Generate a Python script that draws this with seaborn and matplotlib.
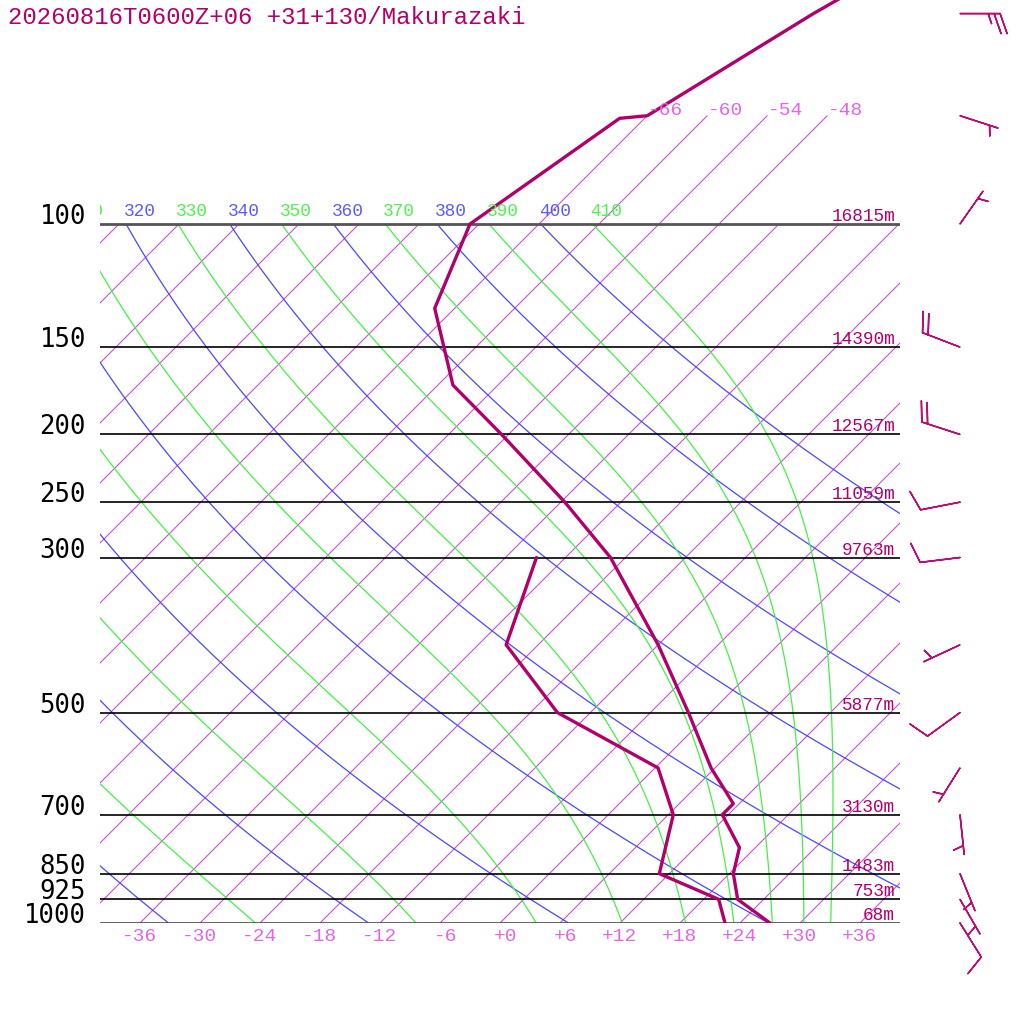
import numpy as np
import matplotlib
matplotlib.use("Agg")
import matplotlib.pyplot as plt
import matplotlib.transforms as mtransforms
from matplotlib.patches import Rectangle
import seaborn as sns

# ======================
# data
# ======================
title = "20260816T0600Z+06 +31+130/Makurazaki"

temp_p = [1000, 925, 850, 780, 700, 675, 600, 500, 400, 300, 250, 200, 170, 132, 100, 70.6, 70, 50, 30]
temp_c = [27.0, 21.4, 18.4, 16.4, 11.4, 11.4, 5.6, -2.2, -12.0, -25.5, -35.6, -48.7, -58.5, -68.0,
          -72.9, -68.5, -66.0, -59.6, -48.0]

dewp_p = [1000, 925, 850, 700, 600, 500, 400, 300]
dewp_c = [22.5, 19.5, 11.0, 6.5, 0.3, -15.3, -27.2, -32.9]

levels = [100, 150, 200, 250, 300, 500, 700, 850, 925, 1000]
heights = ["16815m", "14390m", "12567m", "11059m", "9763m", "5877m", "3130m", "1483m", "753m", "68m"]

wind_p = [50, 70, 100, 150, 200, 250, 300, 400, 500, 600, 700, 850, 925, 1000]
wind_dir = [90, 108, 35, 291, 288, 259, 263, 245, 234, 212, 174, 158, 150, 148]
wind_kt = [25, 5, 5, 20, 20, 10, 10, 5, 10, 5, 5, 5, 5, 10]

iso_temps = [-108, -102, -96, -90, -84, -78, -72, -66, -60, -54, -48, -42, -36, -30, -24, -18,
             -12, -6, 0, 6, 12, 18, 24, 30, 36]
iso_lab = [-36, -30, -24, -18, -12, -6, 0, 6, 12, 18, 24, 30, 36]
iso_top = [-66, -60, -54, -48]
dry_theta = [240, 260, 280, 300, 320, 340, 360, 380, 400]
moist_theta = [250, 270, 290, 310, 330, 350, 370, 390, 410]

# ======================
# styling
# ======================
C_SND = "#b0006a"
C_BARB = "#b80f72"
C_ISO = "#cc44dd"
C_ISO_TXT = "#e066e6"
C_DRY = "#4848ff"
C_MOIST = "#44f044"
MONO = "Liberation Mono"

SKEW = 69.9          # deg C shift per decade of pressure
P_TOP = 1000 * 10 ** (-923 / 699)


def skew(t, p):
    return np.asarray(t, float) + SKEW * np.log10(1000.0 / np.asarray(p, float))


sns.set_theme(style="white")
plt.rcParams["font.family"] = ["DejaVu Sans"]

fig = plt.figure(figsize=(10.24, 10.24), dpi=100)
ax = fig.add_axes([100 / 1024, 101 / 1024, 800 / 1024, 923 / 1024])
ax.set_yscale("log")
ax.set_xlim(-40, 40)
ax.set_ylim(1000, P_TOP)
ax.axis("off")

box = Rectangle((-40, 100), 80, 900, transform=ax.transData, fill=False, visible=False)
lab_tr = mtransforms.offset_copy(ax.transData, fig, x=-2, y=4, units="dots")

# isotherms
for t in iso_temps:
    ln, = ax.plot(skew([t, t], [1000, 100]), [1000, 100], color=C_ISO, lw=0.75)
    ln.set_clip_path(box)
for t in iso_top:
    ax.plot(skew([t, t], [100, 70]), [100, 70], color=C_ISO, lw=0.75)
    ax.text(skew(t, 70), 70, f"-{abs(t)}",
            transform=mtransforms.offset_copy(ax.transData, fig, x=1, y=5, units="dots"),
            ha="left", va="center", family=MONO, fontsize=14, color=C_ISO_TXT)

# dry adiabats
pp = np.geomspace(1000, 100, 200)
kappa = 287.04 / 1005.7
for th in dry_theta:
    tc = th * (pp / 1000) ** kappa - 273.15
    ln, = ax.plot(skew(tc, pp), pp, color=C_DRY, lw=0.9)
    ln.set_clip_path(box)
    x100 = skew(tc[-1], 100)
    if x100 > -43:   # labels further left are hidden by the frame anyway
        ax.text(x100, 100, str(th), transform=lab_tr, ha="left", va="bottom",
                family=MONO, fontsize=12.8, color="#5a5aff", clip_on=True)

# moist (pseudo) adiabats, integrated down from 100 hPa
Rd, cp, Lv, eps = 287.04, 1005.7, 2.501e6, 0.622


def dTdp(tk, p):
    es = 6.112 * np.exp(17.67 * (tk - 273.15) / (tk - 29.65))
    rs = eps * es / (p - es)
    return (Rd * tk + Lv * rs) / (cp + Lv ** 2 * rs * eps / (Rd * tk ** 2)) / p


pm = np.linspace(100, 1000, 361)
tk = np.array(moist_theta, float) * (0.1 ** kappa)
curves = [tk.copy()]
for i in range(len(pm) - 1):
    p0, h = pm[i], pm[i + 1] - pm[i]
    k1 = dTdp(tk, p0)
    k2 = dTdp(tk + h / 2 * k1, p0 + h / 2)
    k3 = dTdp(tk + h / 2 * k2, p0 + h / 2)
    k4 = dTdp(tk + h * k3, p0 + h)
    tk = tk + h / 6 * (k1 + 2 * k2 + 2 * k3 + k4)
    curves.append(tk.copy())
curves = np.array(curves) - 273.15
for j, th in enumerate(moist_theta):
    ln, = ax.plot(skew(curves[:, j], pm), pm, color=C_MOIST, lw=0.9)
    ln.set_clip_path(box)
    x100 = skew(curves[0, j], 100)
    if x100 > -43:
        ax.text(x100, 100, str(th), transform=lab_tr, ha="left", va="bottom",
                family=MONO, fontsize=12.8, color="#50f050", clip_on=True)

# isobars + labels
for p, h in zip(levels, heights):
    edge = p in (100, 1000)
    ax.plot([-40, 40], [p, p], color="#555555" if edge else "black", lw=2.0 if edge else 1.2)
    ax.text(-14 / 800, p, str(p), transform=ax.get_yaxis_transform(), ha="right", va="baseline",
            family="DejaVu Sans Mono", fontsize=18.5, color="black", clip_on=False)
    ax.text(795 / 800, p, h,
            transform=mtransforms.offset_copy(ax.get_yaxis_transform(), fig, x=0, y=3, units="dots"),
            ha="right", va="baseline", family=MONO, fontsize=12.8, color=C_SND)

# temperature labels along the bottom
for t in iso_lab:
    lab = f"+{t}" if t >= 0 else f"-{abs(t)}"
    ax.text(t, 1000, lab,
            transform=mtransforms.offset_copy(ax.transData, fig, x=17.5, y=-13, units="dots"),
            ha="right", va="center", family=MONO, fontsize=14, color=C_ISO_TXT, clip_on=False)

# sounding
sns.lineplot(x=skew(temp_c, temp_p), y=temp_p, sort=False, estimator=None,
             color=C_SND, lw=2.4, ax=ax)
sns.lineplot(x=skew(dewp_c, dewp_p), y=dewp_p, sort=False, estimator=None,
             color=C_SND, lw=2.4, ax=ax)

# wind barbs
d = np.radians(wind_dir)
u = -np.array(wind_kt) * np.sin(d)
v = -np.array(wind_kt) * np.cos(d)
ax.barbs(np.full(len(wind_p), 860 / 800), wind_p, u, v, transform=ax.get_yaxis_transform(),
         length=7.6, sizes=dict(spacing=0.15, height=0.5, width=0.35),
         color=C_BARB, linewidth=1.1, clip_on=False)

fig.text(8 / 1024, 1 - 17 / 1024, title, ha="left", va="center", family=MONO,
         fontsize=17.3, color=C_SND)

fig.savefig("out.png", dpi=100, facecolor="white")
